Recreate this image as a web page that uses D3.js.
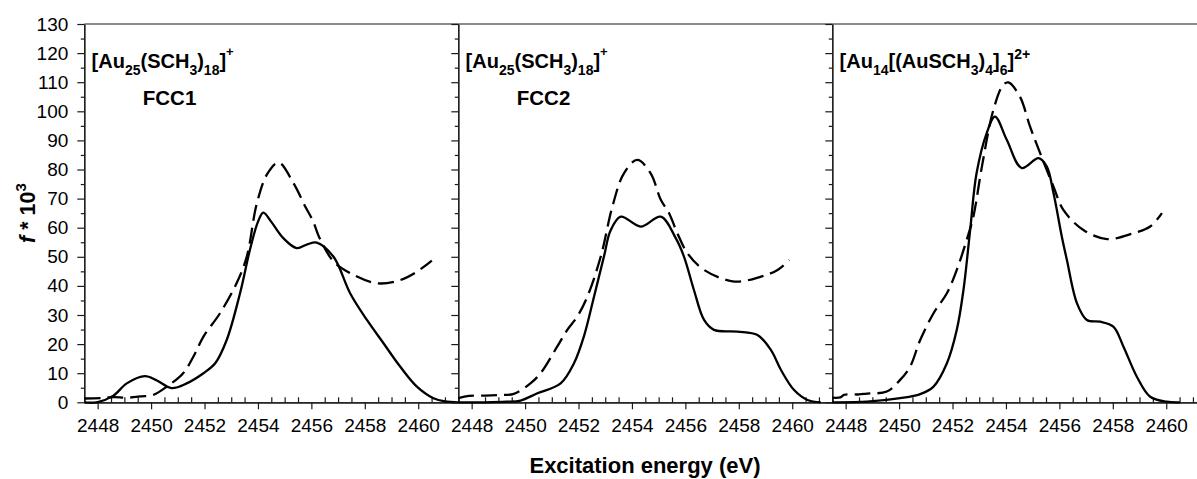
<!DOCTYPE html>
<html><head><meta charset="utf-8">
<script src="https://cdn.jsdelivr.net/npm/d3@7"></script>
<style>
html,body{margin:0;padding:0;background:#fff;}
text{font-family:"Liberation Sans",Arial,sans-serif;fill:#000;}
</style></head>
<body>
<svg id="chart" width="1197" height="479"></svg>
<script>
// ---------- data ----------
const panelTitles = [
  [{t:"[Au"},{t:"25",k:"sub"},{t:"(SCH"},{t:"3",k:"sub"},{t:")"},{t:"18",k:"sub"},{t:"]"},{t:"+",k:"sup"}],
  [{t:"[Au"},{t:"25",k:"sub"},{t:"(SCH"},{t:"3",k:"sub"},{t:")"},{t:"18",k:"sub"},{t:"]"},{t:"+",k:"sup"}],
  [{t:"[Au"},{t:"14",k:"sub"},{t:"[(AuSCH"},{t:"3",k:"sub"},{t:")"},{t:"4",k:"sub"},{t:"]"},{t:"6",k:"sub"},{t:"]"},{t:"2+",k:"sup"}]
];
const panelSubtitles = ["FCC1", "FCC2", ""];

const xTicksMajor = [2448, 2450, 2452, 2454, 2456, 2458, 2460];
const yTicksMajor = [0,10,20,30,40,50,60,70,80,90,100,110,120,130];
const xLabel = "Excitation energy (eV)";

// panel 1 : FCC1
const solid1 = [[2447.5,0],[2448.0,0.1],[2448.59,2.3],[2449.09,6.5],[2449.77,9.0],[2450.2,7.6],[2450.77,4.9],[2451.33,6.5],[2451.96,10],[2452.4,13.4],[2452.83,21.4],[2453.33,37.5],[2453.7,52.4],[2454.0,62],[2454.2,65.2],[2454.5,62],[2454.95,56.4],[2455.45,53],[2455.85,54.3],[2456.2,54.9],[2456.83,50],[2457.45,37.5],[2458.08,28.3],[2458.7,20.3],[2459.33,12.2],[2459.95,5.4],[2460.57,1.4],[2461.0,0.3],[2461.5,0]];
const dashed1 = [[2447.5,1.3],[2448.2,1.5],[2448.6,1.8],[2449.1,1.6],[2449.6,2.0],[2450.1,2.6],[2450.59,5.4],[2451.2,10],[2451.6,16],[2451.96,22.6],[2452.58,30.6],[2453.2,40.9],[2453.58,50],[2453.96,68.4],[2454.35,78.5],[2454.77,82.4],[2455.33,75.3],[2455.77,67.3],[2456.05,62.5],[2456.33,56],[2456.83,48.4],[2457.45,44.4],[2458.45,40.9],[2459.33,42],[2459.95,44.9],[2460.51,48.7]];

// panel 2 : FCC2
const solid2 = [[2447.5,0],[2448.5,0],[2449.3,0.2],[2449.83,0.6],[2450.46,3.1],[2451.33,6.5],[2451.83,13.4],[2452.2,22.6],[2452.58,36.3],[2452.95,50],[2453.2,59],[2453.58,63.8],[2454.33,60.4],[2455.08,63.8],[2455.64,56.4],[2455.95,50],[2456.32,38.6],[2456.7,28.3],[2457.07,24.9],[2457.95,24.3],[2458.7,23.1],[2459.2,18],[2459.58,11.1],[2460.07,4.2],[2460.57,0.8],[2461.07,0]];
const dashed2 = [[2447.5,1.4],[2447.9,2.2],[2448.5,2.3],[2449.0,2.5],[2449.58,2.9],[2450.2,6.5],[2450.58,10],[2451.2,19.1],[2451.58,24.9],[2451.95,29.4],[2452.33,36.3],[2452.83,50],[2453.27,67.3],[2453.7,78.7],[2454.2,83.3],[2454.7,78.7],[2455.08,69.6],[2455.39,65],[2455.7,58.1],[2456.08,51.2],[2456.7,45.5],[2457.83,41.5],[2458.83,43.2],[2459.45,45.5],[2459.89,48.9]];

// panel 3 : Au14[(AuSCH3)4]6
const solid3 = [[2447.5,0],[2448.79,0.2],[2450.04,1.4],[2450.79,2.8],[2451.29,5.4],[2451.79,13.4],[2452.16,24.9],[2452.41,38.6],[2452.66,59.2],[2452.9,78.7],[2453.28,92.5],[2453.59,98.2],[2454.03,90.2],[2454.59,80.5],[2455.22,83.9],[2455.53,81],[2455.78,71.9],[2456.09,57],[2456.28,49],[2456.66,34],[2457.03,28.3],[2457.53,27.7],[2458.02,26],[2458.4,19.1],[2458.9,8.8],[2459.4,1.9],[2460.02,0.2],[2460.52,0]];
const dashed3 = [[2447.5,1.6],[2447.8,1.7],[2447.95,2.6],[2448.5,2.7],[2448.8,3.0],[2449.54,3.7],[2450.04,7.7],[2450.41,12.2],[2450.79,21.4],[2451.29,30.6],[2451.79,37.5],[2452.16,45.5],[2452.53,55.8],[2452.78,63.8],[2453.1,81],[2453.53,100.5],[2453.9,109.1],[2454.09,109.9],[2454.52,105.1],[2454.9,94.8],[2455.28,85.6],[2455.78,74.1],[2456.15,66.1],[2456.9,59.2],[2457.78,56.1],[2458.77,58.1],[2459.4,60.4],[2459.84,65]];

const solidSeries = [solid1, solid2, solid3];
const dashedSeries = [dashed1, dashed2, dashed3];

// ---------- layout ----------
const svg = d3.select("#chart");
svg.append("rect").attr("width",1197).attr("height",479).attr("fill","#fff");
const plotTop = 24, plotBottom = 402.3;
const panelLefts = [84.3, 458.3, 832.3];
const panelW = 374;
const xDomain = [2447.5, 2461.5];
const y = d3.scaleLinear().domain([0,130]).range([plotBottom, plotTop]);

const xMinor = d3.range(2447.5, 2461.51, 0.5).filter(v => Math.abs(v/2 - Math.round(v/2)) > 1e-6);
const yMinor = d3.range(5, 130, 10);

const axisColor = "#1a1a1a";

panelLefts.forEach((left, i) => {
  const x = d3.scaleLinear().domain(xDomain).range([left, left + panelW]);
  const g = svg.append("g");

  const gx = g.append("g").attr("transform", `translate(0,${plotBottom})`)
    .call(d3.axisBottom(x).tickValues(xTicksMajor).tickSizeInner(7).tickSizeOuter(0).tickPadding(9).tickFormat(d3.format("d")));
  gx.selectAll("text").attr("font-size", 19).attr("font-family", '"Liberation Sans",Arial,sans-serif').attr("fill","#000");
  g.append("g").attr("transform", `translate(0,${plotBottom})`)
    .call(d3.axisBottom(x).tickValues(xMinor).tickSizeInner(-5).tickSizeOuter(0).tickFormat(""));

  const gy = g.append("g").attr("transform", `translate(${left},0)`)
    .call(d3.axisLeft(y).tickValues(yTicksMajor).tickSizeInner(7).tickSizeOuter(0).tickPadding(9)
      .tickFormat(i === 0 ? d3.format("d") : ""));
  gy.selectAll("text").attr("font-size", 19).attr("font-family", '"Liberation Sans",Arial,sans-serif').attr("fill","#000");
  g.append("g").attr("transform", `translate(${left},0)`)
    .call(d3.axisLeft(y).tickValues(yMinor).tickSizeInner(3.5).tickSizeOuter(0).tickFormat(""));

  g.selectAll(".domain, .tick line").attr("stroke", axisColor).attr("stroke-width", 1.2);

  g.append("line").attr("x1", left).attr("x2", left + panelW).attr("y1", plotTop).attr("y2", plotTop)
    .attr("stroke", axisColor).attr("stroke-width", 1.2);

  const line = d3.line().x(d => x(d[0])).y(d => y(d[1])).curve(d3.curveCatmullRom.alpha(0.5));
  g.append("path").datum(dashedSeries[i]).attr("d", line).attr("fill","none")
    .attr("stroke","#000").attr("stroke-width",2.3).attr("stroke-dasharray","16,7");
  g.append("path").datum(solidSeries[i]).attr("d", line).attr("fill","none")
    .attr("stroke","#000").attr("stroke-width",2.3);

  const t = g.append("text").attr("x", left + 7.3).attr("y", 68)
    .attr("font-size", 20).attr("font-weight", "bold");
  let shift = 0;
  panelTitles[i].forEach(seg => {
    let target = 0, fs = 20;
    if (seg.k === "sub") { target = 7; fs = 14; }
    if (seg.k === "sup") { target = (i === 2 ? -9 : -12); fs = (i === 2 ? 14 : 13); }
    t.append("tspan").attr("dy", target - shift).attr("font-size", fs).text(seg.t);
    shift = target;
  });
  if (panelSubtitles[i]) {
    g.append("text").attr("x", left + 58.5).attr("y", 105)
      .attr("font-size", 20.5).attr("font-weight","bold").text(panelSubtitles[i]);
  }
});

svg.append("text").attr("x", 645).attr("y", 473).attr("text-anchor","middle")
  .attr("font-size", 22).attr("font-weight","bold").text(xLabel);

const yl = svg.append("text").attr("transform", "translate(35,213) rotate(-90)")
  .attr("text-anchor","middle").attr("font-size", 21.5).attr("font-weight","bold");
yl.append("tspan").attr("font-style","italic").text("f");
yl.append("tspan").text(" * 10");
yl.append("tspan").attr("dy", -9).attr("font-size", 15).text("3");
</script>
</body></html>
